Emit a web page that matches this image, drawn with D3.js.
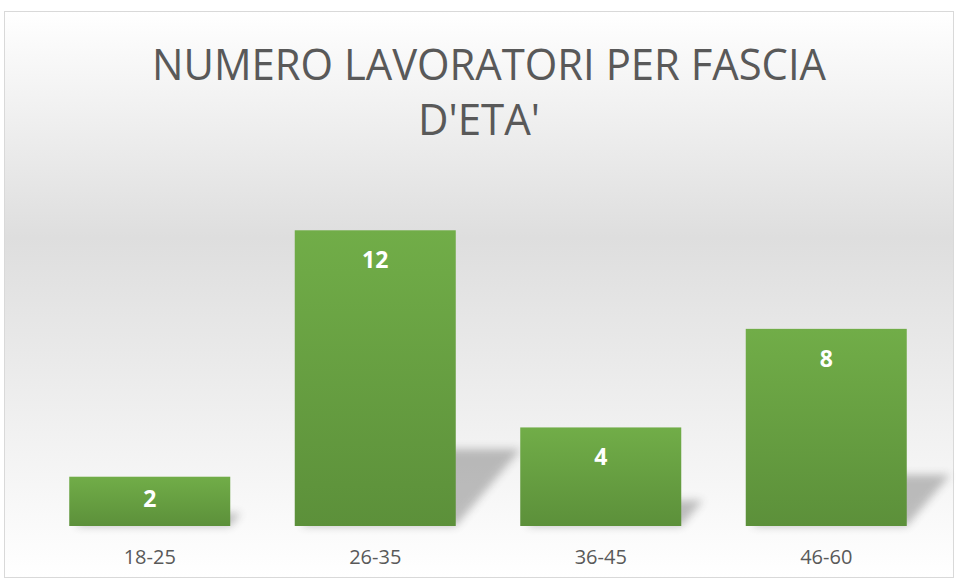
<!DOCTYPE html>
<html>
<head>
<meta charset="utf-8">
<script src="https://cdn.jsdelivr.net/npm/d3@7"></script>
<style>
  body { margin: 0; background: #fff; }
  svg { display: block; }
</style>
</head>
<body>
<svg id="chart" width="956" height="579"></svg>
<script>
// Data
const categories = ["18-25", "26-35", "36-45", "46-60"];
const values = [2, 12, 4, 8];
const titleLines = ["NUMERO LAVORATORI PER FASCIA", "D'ETA'"];

const width = 956, height = 579;
const svg = d3.select("#chart");
const defs = svg.append("defs");

// background gradient
const bg = defs.append("linearGradient").attr("id", "bgGrad")
    .attr("x1", 0).attr("y1", 0).attr("x2", 0).attr("y2", 1);
bg.append("stop").attr("offset", "0%").attr("stop-color", "#ffffff");
bg.append("stop").attr("offset", "40%").attr("stop-color", "#dedede");
bg.append("stop").attr("offset", "100%").attr("stop-color", "#ffffff");

// bar gradient
const barGrad = defs.append("linearGradient").attr("id", "barGrad")
    .attr("x1", 0).attr("y1", 0).attr("x2", 0).attr("y2", 1);
barGrad.append("stop").attr("offset", "0%").attr("stop-color", "#71ad48");
barGrad.append("stop").attr("offset", "100%").attr("stop-color", "#5c903a");

// shadow blur
defs.append("filter").attr("id", "blur")
    .attr("x", "-30%").attr("y", "-30%").attr("width", "160%").attr("height", "160%")
  .append("feGaussianBlur").attr("stdDeviation", 4);

// chart area + border
svg.append("rect")
    .attr("x", 4.5).attr("y", 11.5)
    .attr("width", 949).attr("height", 566)
    .attr("fill", "url(#bgGrad)")
    .attr("stroke", "#d9d9d9").attr("stroke-width", 1);

// title
const title = svg.append("g").attr("font-family", "'Open Sans', sans-serif")
    .attr("fill", "#595959").attr("text-anchor", "middle");
title.append("text").attr("x", 489).attr("y", 80)
    .attr("font-size", 44).attr("textLength", 674).attr("lengthAdjust", "spacingAndGlyphs")
    .text(titleLines[0]);
title.append("text").attr("x", 479).attr("y", 135)
    .attr("font-size", 44).attr("textLength", 122).attr("lengthAdjust", "spacingAndGlyphs")
    .text(titleLines[1]);

// scales
const x = d3.scaleBand().domain(categories).range([37, 939]).paddingInner(0.286).paddingOuter(0.143);
const y = d3.scaleLinear().domain([0, 14]).range([526, 181]);

// shadows (perspective shadow falling to the back right)
const shadow = svg.append("g").attr("filter", "url(#blur)").attr("opacity", 0.3);
shadow.selectAll("path").data(values).join("path")
    .attr("fill", "#333")
    .attr("d", (d, i) => {
      const x0 = x(categories[i]) + 6, x1 = x(categories[i]) + x.bandwidth();
      const base = y(0), h = base - y(d);
      const top = base - h * 0.26, dx = h * 0.22;
      return `M${x0},${base} L${x1},${base} L${x1 + dx},${top} L${x0 + dx},${top} Z`;
    });

// bars
svg.append("g").selectAll("rect").data(values).join("rect")
    .attr("x", (d, i) => x(categories[i]))
    .attr("y", d => y(d))
    .attr("width", x.bandwidth())
    .attr("height", d => y(0) - y(d))
    .attr("fill", "url(#barGrad)");

// value labels (inside end)
svg.append("g").selectAll("text").data(values).join("text")
    .attr("x", (d, i) => x(categories[i]) + x.bandwidth() / 2)
    .attr("y", d => Math.min(y(d) + 38, y(0) - 19))
    .attr("text-anchor", "middle")
    .attr("font-family", "'Open Sans', sans-serif")
    .attr("font-weight", "bold")
    .attr("font-size", 23)
    .attr("fill", "#ffffff")
    .text(d => d);

// x axis labels
const xAxis = svg.append("g").attr("transform", "translate(0,526)")
    .call(d3.axisBottom(x).tickSize(0).tickPadding(24));
xAxis.select(".domain").remove();
xAxis.selectAll("text")
    .attr("font-family", "'Open Sans', sans-serif")
    .attr("font-size", 20)
    .attr("fill", "#595959");
</script>
</body>
</html>
